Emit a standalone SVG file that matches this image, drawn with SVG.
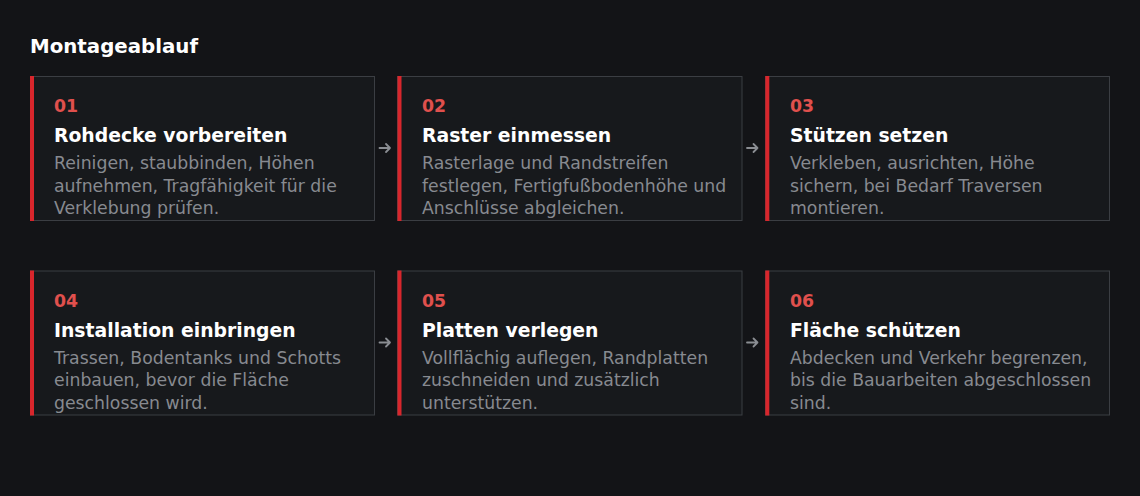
<svg xmlns="http://www.w3.org/2000/svg" width="1140" height="496" viewBox="0 0 1140 496">
<style>
.bg{fill:#131417}
.card{fill:#17191c;stroke:#3b3e43;stroke-width:1}
.bar{fill:#d8262c}
.num{font-family:"DejaVu Sans",sans-serif;font-weight:bold;font-size:17.3px;fill:#e0504d}
.ttl{font-family:"DejaVu Sans",sans-serif;font-weight:bold;font-size:18.8px;fill:#ffffff}
.desc{font-family:"DejaVu Sans",sans-serif;font-size:17.3px;fill:#878a90}
.head{font-family:"DejaVu Sans",sans-serif;font-weight:bold;font-size:19.8px;fill:#ffffff}
.arr{fill:none;stroke:#8a8d92;stroke-width:1.8;stroke-linecap:round;stroke-linejoin:round}
</style>
<rect class="bg" x="0" y="0" width="1140" height="496"/>
<text class="head" x="30" y="53">Montageablauf</text>

<g id="step01">
<rect class="card" x="30.5" y="76.5" width="344" height="144"/>
<rect class="bar" x="30" y="76" width="4" height="145"/>
<text class="num" x="54" y="112">01</text>
<text class="ttl" x="54" y="142">Rohdecke vorbereiten</text>
<text class="desc" x="54" y="169">Reinigen, staubbinden, Höhen</text>
<text class="desc" x="54" y="191.5">aufnehmen, Tragfähigkeit für die</text>
<text class="desc" x="54" y="214">Verklebung prüfen.</text>
</g>

<g id="step02">
<rect class="card" x="397.5" y="76.5" width="344.5" height="144"/>
<rect class="bar" x="397.5" y="76" width="4" height="145"/>
<text class="num" x="422" y="112">02</text>
<text class="ttl" x="422" y="142">Raster einmessen</text>
<text class="desc" x="422" y="169">Rasterlage und Randstreifen</text>
<text class="desc" x="422" y="191.5">festlegen, Fertigfußbodenhöhe und</text>
<text class="desc" x="422" y="214">Anschlüsse abgleichen.</text>
</g>

<g id="step03">
<rect class="card" x="765.5" y="76.5" width="344" height="144"/>
<rect class="bar" x="765.3" y="76" width="4" height="145"/>
<text class="num" x="790" y="112">03</text>
<text class="ttl" x="790" y="142">Stützen setzen</text>
<text class="desc" x="790" y="169">Verkleben, ausrichten, Höhe</text>
<text class="desc" x="790" y="191.5">sichern, bei Bedarf Traversen</text>
<text class="desc" x="790" y="214">montieren.</text>
</g>

<g id="step04">
<rect class="card" x="30.5" y="271" width="344" height="144"/>
<rect class="bar" x="30" y="270.5" width="4" height="145"/>
<text class="num" x="54" y="306.5">04</text>
<text class="ttl" x="54" y="336.5">Installation einbringen</text>
<text class="desc" x="54" y="363.5">Trassen, Bodentanks und Schotts</text>
<text class="desc" x="54" y="386">einbauen, bevor die Fläche</text>
<text class="desc" x="54" y="408.5">geschlossen wird.</text>
</g>

<g id="step05">
<rect class="card" x="397.5" y="271" width="344.5" height="144"/>
<rect class="bar" x="397.5" y="270.5" width="4" height="145"/>
<text class="num" x="422" y="306.5">05</text>
<text class="ttl" x="422" y="336.5">Platten verlegen</text>
<text class="desc" x="422" y="363.5">Vollflächig auflegen, Randplatten</text>
<text class="desc" x="422" y="386">zuschneiden und zusätzlich</text>
<text class="desc" x="422" y="408.5">unterstützen.</text>
</g>

<g id="step06">
<rect class="card" x="765.5" y="271" width="344" height="144"/>
<rect class="bar" x="765.3" y="270.5" width="4" height="145"/>
<text class="num" x="790" y="306.5">06</text>
<text class="ttl" x="790" y="336.5">Fläche schützen</text>
<text class="desc" x="790" y="363.5">Abdecken und Verkehr begrenzen,</text>
<text class="desc" x="790" y="386">bis die Bauarbeiten abgeschlossen</text>
<text class="desc" x="790" y="408.5">sind.</text>
</g>

<g id="connectors">
<path class="arr" d="M379.5 148H390M386 144L390 148L386 152"/>
<path class="arr" d="M747 148H757.5M753.5 144L757.5 148L753.5 152"/>
<path class="arr" d="M379.5 342.5H390M386 338.5L390 342.5L386 346.5"/>
<path class="arr" d="M747 342.5H757.5M753.5 338.5L757.5 342.5L753.5 346.5"/>
</g>
</svg>
